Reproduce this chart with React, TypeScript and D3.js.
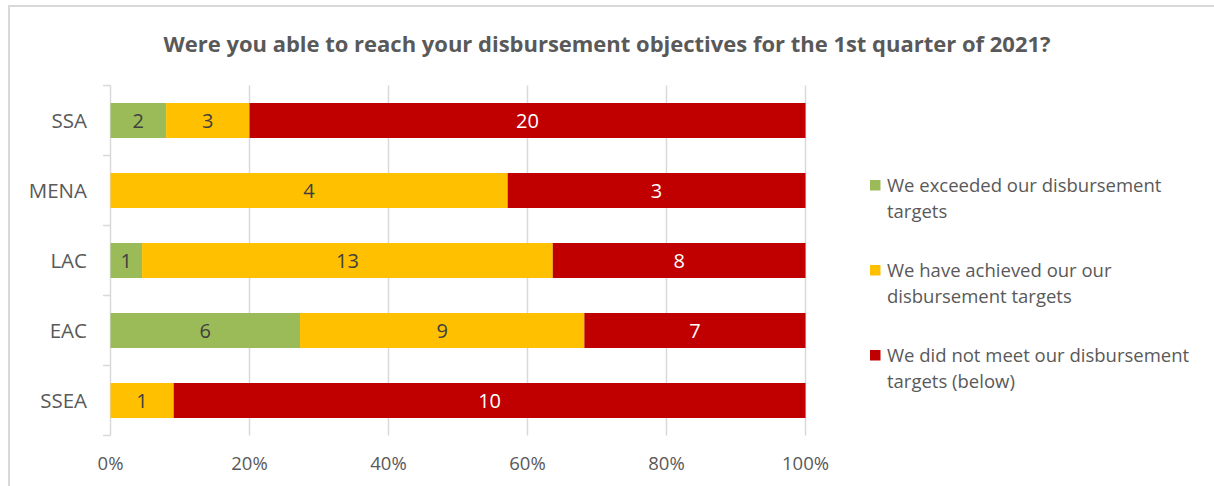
import React from "react";
import * as d3 from "d3";

const categories = ["SSA", "MENA", "LAC", "EAC", "SSEA"];
const exceeded = [2, 0, 1, 6, 0];
const achieved = [3, 4, 13, 9, 1];
const notMet = [20, 3, 8, 7, 10];
const seriesNames = [
  ["We exceeded our disbursement", "targets"],
  ["We have achieved our our", "disbursement targets"],
  ["We did not meet our disbursement", "targets (below)"],
];
const seriesColors = ["#9BBB59", "#FFC000", "#C00000"];
const labelColors = ["#404040", "#404040", "#FFFFFF"];
const xTicks = [0, 0.2, 0.4, 0.6, 0.8, 1];
const title = "Were you able to reach your disbursement objectives for the 1st quarter of 2021?";

const W = 1214;
const H = 486;
const FONT = "'Open Sans', 'Liberation Sans', sans-serif";

export default function App() {
  const x = d3.scaleLinear().domain([0, 1]).range([110.5, 805.5]);
  const y = d3.scaleBand().domain(categories).range([85.5, 435.5]).paddingInner(0.5).paddingOuter(0.25);
  const rows = categories.map((c, i) => {
    const vals = [exceeded[i], achieved[i], notMet[i]];
    const total = d3.sum(vals);
    let acc = 0;
    return vals.map((v, k) => {
      const x0 = acc / total;
      acc += v;
      return { cat: c, k, v, x0, x1: acc / total };
    });
  });
  const gridColor = "#D9D9D9";
  const textColor = "#595959";
  const boundaries = d3.range(categories.length + 1).map((i) => 85.5 + i * 70);
  return (
    <svg width={W} height={H} style={{ position: "absolute", left: 0, top: 0, background: "#fff" }}>
      <rect x={9} y={6} width={1400} height={600} fill="#fff" stroke={gridColor} strokeWidth={2} />
      <text x={607} y={52} textAnchor="middle" fontFamily={FONT} fontWeight="bold" fontSize={20.5} fill={textColor} textLength={887} lengthAdjust="spacingAndGlyphs">
        {title}
      </text>
      {xTicks.slice(1).map((t) => (
        <line key={t} x1={x(t)} x2={x(t)} y1={85.5} y2={435.5} stroke={gridColor} strokeWidth={1.5} />
      ))}
      <line x1={x(0)} x2={x(0)} y1={85.5} y2={435.5} stroke={gridColor} strokeWidth={1.5} />
      {boundaries.map((b) => (
        <line key={b} x1={103} x2={x(0)} y1={b} y2={b} stroke={gridColor} strokeWidth={1.5} />
      ))}
      {rows.map((segs) =>
        segs.filter((s) => s.v > 0).map((s) => (
          <g key={s.cat + s.k}>
            <rect x={x(s.x0)} y={y(s.cat)!} width={x(s.x1) - x(s.x0)} height={y.bandwidth()} fill={seriesColors[s.k]} />
            <text x={(x(s.x0) + x(s.x1)) / 2} y={y(s.cat)! + y.bandwidth() / 2} dy="0.36em" textAnchor="middle" fontFamily={FONT} fontSize={20} fill={labelColors[s.k]}>
              {s.v}
            </text>
          </g>
        ))
      )}
      {categories.map((c) => (
        <text key={c} x={87} y={y(c)! + y.bandwidth() / 2} dy="0.36em" textAnchor="end" fontFamily={FONT} fontSize={20.5} fill={textColor}>
          {c}
        </text>
      ))}
      {xTicks.map((t) => (
        <text key={t} x={x(t)} y={463} dy="0.36em" textAnchor="middle" fontFamily={FONT} fontSize={18.5} fill={textColor}>
          {d3.format(".0%")(t)}
        </text>
      ))}
      {seriesNames.map((lines, k) => {
        const top = [185, 270, 355][k];
        return (
          <g key={k}>
            <rect x={870} y={top - 5} width={10.5} height={10.5} fill={seriesColors[k]} />
            {lines.map((ln, j) => (
              <text key={j} x={887} y={top + j * 26} dy="0.36em" fontFamily={FONT} fontSize={18.5} fill={textColor}>
                {ln}
              </text>
            ))}
          </g>
        );
      })}
    </svg>
  );
}
